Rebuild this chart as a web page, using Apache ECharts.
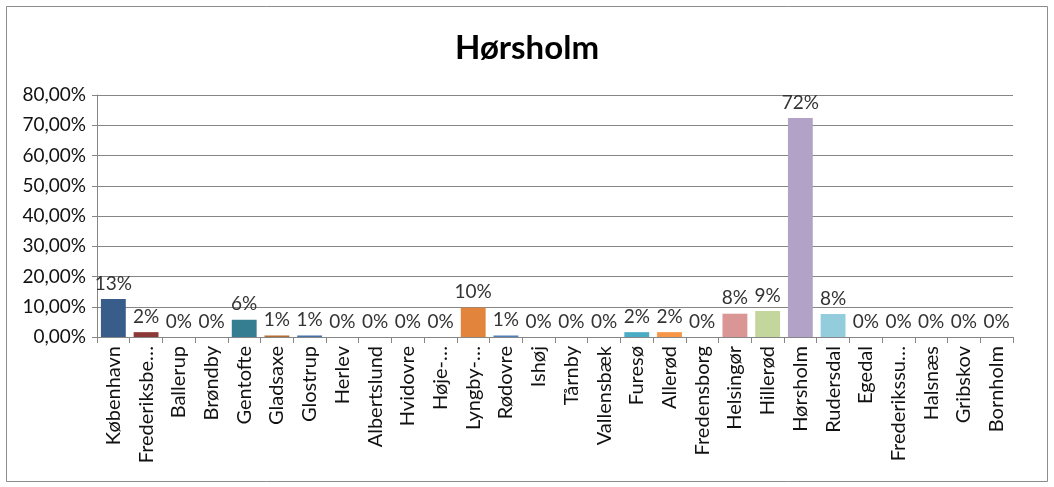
<!DOCTYPE html>
<html><head><meta charset="utf-8">
<script src="https://cdn.jsdelivr.net/npm/echarts@6/dist/echarts.min.js"></script>
<style>html,body{margin:0;padding:0;background:#fff}#c{width:1054px;height:487px}</style>
</head><body><div id="c"></div>
<script>
const title = "Hørsholm";
const categories = ["København","Frederiksberg","Ballerup","Brøndby","Gentofte","Gladsaxe","Glostrup","Herlev","Albertslund","Hvidovre","Høje-Taastrup","Lyngby-Taarbæk","Rødovre","Ishøj","Tårnby","Vallensbæk","Furesø","Allerød","Fredensborg","Helsingør","Hillerød","Hørsholm","Rudersdal","Egedal","Frederikssund","Halsnæs","Gribskov","Bornholm"];
const values = [12.6,1.6,0,0,5.7,0.5,0.5,0,0,0,0,9.7,0.5,0,0,0,1.6,1.6,0,7.7,8.6,72.4,7.6,0,0,0,0,0];
const colors = ["#385D8A","#8C3836","#71893F","#5C4776","#357D91","#B66D31","#4672AA","#B84C49","#93B255","#7A5F9A","#47A3BC","#E2843C","#4F81BD","#C0504D","#9BBB59","#8064A2","#4BACC6","#F79646","#95B3D7","#D99694","#C3D69B","#B3A2C7","#93CDDD","#FAC090","#385D8A","#8C3836","#71893F","#5C4776"];
const yTicks = {min:0, max:80, interval:10};

const font = "Lato, 'Open Sans', sans-serif";
const chart = echarts.init(document.getElementById('c'));
chart.setOption({
  animation:false,
  title:{text:title,left:'center',top:27,textStyle:{fontFamily:font,fontSize:33,fontWeight:'bold',color:'#000'}},
  graphic:[{type:'rect',shape:{x:6.5,y:6.5,width:1041,height:475},style:{fill:'none',stroke:'#8c8c8c',lineWidth:1},silent:true}],
  grid:{left:97,right:41,top:95,bottom:150},
  xAxis:{type:'category',data:categories,
    axisLine:{lineStyle:{color:'#868686'}},
    axisTick:{show:true,length:6,lineStyle:{color:'#868686'}},
    axisLabel:{rotate:90,interval:0,fontFamily:font,fontSize:20,color:'#111',margin:9,
      formatter:v=>v.indexOf('-')>=0?v.slice(0,v.indexOf('-')+1)+'…':(v.length>12?v.slice(0,11)+'…':v)}},
  yAxis:{type:'value',min:yTicks.min,max:yTicks.max,interval:yTicks.interval,
    axisLine:{show:true,lineStyle:{color:'#868686'}},
    axisTick:{show:true,length:5,lineStyle:{color:'#868686'}},
    splitLine:{lineStyle:{color:'#868686'}},
    axisLabel:{fontFamily:font,fontSize:19,color:'#111',margin:11,formatter:v=>v.toFixed(2).replace('.',',')+'%'}},
  series:[{type:'bar',data:values.map((v,i)=>({value:v,itemStyle:{color:colors[i]}})),
    barWidth:'76%',
    label:{show:true,position:'top',distance:6,fontFamily:font,fontSize:19,color:'#333',formatter:p=>Math.round(p.value)+'%'}}]
});
</script></body></html>
